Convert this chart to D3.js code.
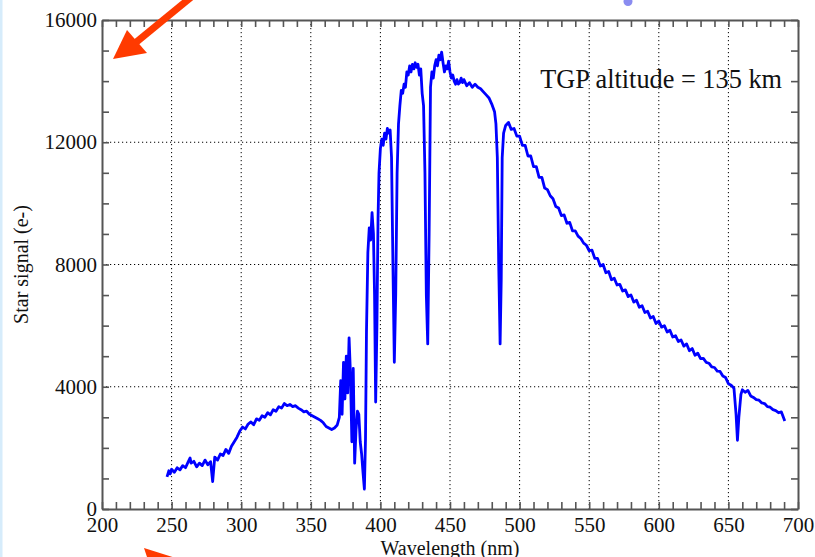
<!DOCTYPE html>
<html><head><meta charset="utf-8">
<script src="https://cdn.jsdelivr.net/npm/d3@7"></script>
<style>
body{margin:0;background:#fff;}
svg{display:block;}
svg text{font-family:"Liberation Serif","Times New Roman",serif !important;}
</style></head><body>
<svg id="c" width="815" height="557"></svg>
<script>
// ---- data ----
const wavelength = [246.7,248,249,250,252,254,256,258,260,262,263.3,264,266,268,270,272,274,276,278,279.5,281,283,285,287,289,291,293,295,297,299,301,303,305,307,309,311,313,315,317,319,321,323,325,327,329,331,333,335,337,339,341,343,345,347,349,351,353,355,357,359,361,363,365,367,369,370.5,371.5,372.5,373.5,374.5,375.5,376.5,377.5,378.5,379.5,380.5,381.5,382.5,383.5,384.5,385.5,386.5,387.5,388.5,389.3,390,391,392,393,394,395,395.8,396.6,397.5,398.3,399,400,401,402,403,404,405,406,407,408,409,410,411,412,413,414,415,416,417,418,419,420,421,422,423,424,425,426,427,428,429,430,431,432,433,434,435,436,437,438,439,440,441,442,443,444,445,446,447,448,449,450,451,452,453,454,455,456,457,458,459,460,462,464,466,468,470,472,474,476,478,480,482,483,484,485,486,486.8,487.5,488.5,490,492,494,496,498,500,502,504,506,508,510,512,514,516,518,520,522,524,526,528,530,532,534,536,538,540,542,544,546,548,550,552,554,556,558,560,562,564,566,568,570,572,574,576,578,580,582,584,586,588,590,592,594,596,598,600,602,604,606,608,610,612,614,616,618,620,622,624,626,628,630,632,634,636,638,640,642,644,646,648,650,652,654,655.5,656.5,657.5,659,660,662,664,666,668,670,672,674,676,678,680,682,684,686,688,689.5,690.5];
const signal = [1050,1250,1150,1300,1200,1350,1280,1420,1350,1550,1670,1500,1560,1380,1500,1420,1600,1450,1550,900,1700,1600,1800,1750,1950,1820,2050,2200,2350,2550,2680,2620,2780,2850,2760,2950,2900,3050,3000,3150,3080,3250,3200,3350,3300,3450,3380,3420,3350,3380,3300,3250,3180,3200,3100,3050,3000,2950,2900,2820,2700,2650,2600,2650,2750,3000,4200,3100,4800,3600,5000,3800,5600,4400,2200,4600,1500,2600,3200,3100,2200,1800,1200,650,2300,5800,8400,9200,8800,9700,9000,7000,3500,6000,9500,11000,11800,12100,11900,12300,12100,12450,12300,12400,11500,8000,4800,7000,11000,12600,13200,13700,13600,13900,13800,14300,14200,14500,14300,14550,14400,14600,14450,14550,14200,14400,13600,13200,11000,7000,5400,9000,13800,14300,14100,14500,14700,14500,14850,14700,14950,14600,14300,14500,14400,14650,14300,14100,14200,14000,13900,14050,13900,13950,14100,13950,14050,13850,13950,13800,13900,13800,13750,13650,13550,13450,13250,13000,12600,11500,8000,5400,7500,11500,12300,12550,12650,12420,12450,12200,12200,11900,11900,11550,11550,11200,11200,10850,10850,10500,10450,10250,10150,9900,9850,9600,9620,9350,9380,9100,9100,8930,8850,8700,8630,8450,8470,8200,8200,7950,8000,7730,7770,7500,7550,7330,7350,7130,7170,6950,7000,6770,6830,6600,6650,6430,6470,6250,6300,6070,6150,5950,6000,5790,5850,5630,5670,5480,5530,5330,5400,5180,5250,5030,5100,4920,4930,4800,4770,4650,4630,4510,4500,4350,4300,4100,4050,3950,3100,2250,3000,3750,3900,3820,3880,3700,3650,3580,3560,3470,3450,3350,3330,3250,3220,3150,3180,3000,2880];
const xTickLabels = [200,250,300,350,400,450,500,550,600,650,700];
const yTickLabels = [0,4000,8000,12000,16000];
const xGrid = [250,300,350,400,450,500,550,600,650];
const yGrid = [4000,8000,12000];
const annotation = "TGP altitude = 135 km";
const xTitle = "Wavelength (nm)";
const yTitle = "Star signal (e-)";

// ---- layout ----
const L=102, R=798, T=20, B=509;
const serif = "Liberation Serif, Times New Roman, serif";
const svg = d3.select("#c");
const x = d3.scaleLinear().domain([200,700]).range([L,R]);
const y = d3.scaleLinear().domain([0,16000]).range([B,T]);
const axisColor = "#555";

// left light-blue strip
svg.append("rect").attr("x",0).attr("y",0).attr("width",2.5).attr("height",557).attr("fill","#d6ecfb");

// grid
svg.append("g").selectAll("line").data(xGrid).join("line")
  .attr("x1",d=>x(d)).attr("x2",d=>x(d)).attr("y1",T).attr("y2",B)
  .attr("stroke","#000").attr("stroke-width",1).attr("stroke-dasharray","1.2,2.8");
svg.append("g").selectAll("line").data(yGrid).join("line")
  .attr("y1",d=>y(d)).attr("y2",d=>y(d)).attr("x1",L).attr("x2",R)
  .attr("stroke","#000").attr("stroke-width",1).attr("stroke-dasharray","1.2,2.8");

// line
const pts = wavelength.map((w,i)=>[w,signal[i]]);
svg.append("path").datum(pts)
  .attr("fill","none").attr("stroke","#0000ff").attr("stroke-width",2.8).attr("stroke-linejoin","round")
  .attr("d", d3.line().x(d=>x(d[0])).y(d=>y(d[1])));

// axes
function styleAxis(g){
  g.attr("font-family",serif).attr("font-size",21);
  g.selectAll(".domain").attr("stroke",axisColor).attr("stroke-width",2);
  g.selectAll(".tick line").attr("stroke",axisColor).attr("stroke-width",1.6);
  g.selectAll("text").attr("fill","#111").style("font-family",serif).style("font-size","21px");
}
const minorX = d3.range(200,701,10);
const minorY = d3.range(0,16001,1000);
svg.append("g").attr("transform",`translate(0,${B})`)
  .call(d3.axisBottom(x).tickValues(minorX).tickSize(-7).tickSizeOuter(0).tickPadding(8)
    .tickFormat(d=>xTickLabels.includes(d)?d:""))
  .call(styleAxis);
svg.append("g").attr("transform",`translate(0,${T})`)
  .call(d3.axisTop(x).tickValues(minorX).tickSize(-7).tickSizeOuter(0).tickFormat(""))
  .call(styleAxis);
svg.append("g").attr("transform",`translate(${L},0)`)
  .call(d3.axisLeft(y).tickValues(minorY).tickSize(-7).tickSizeOuter(0).tickPadding(5)
    .tickFormat(d=>yTickLabels.includes(d)?d:""))
  .call(styleAxis);
svg.append("g").attr("transform",`translate(${R},0)`)
  .call(d3.axisRight(y).tickValues(minorY).tickSize(-7).tickSizeOuter(0).tickFormat(""))
  .call(styleAxis);

// annotation
svg.append("text").attr("x",782).attr("y",88).attr("text-anchor","end")
  .style("font-family",serif).style("font-size","26.3px").attr("fill","#111").text(annotation);

// titles
svg.append("text").attr("x",(L+R)/2).attr("y",555).attr("text-anchor","middle")
  .style("font-family",serif).style("font-size","20px").attr("fill","#111").text(xTitle);
svg.append("text").attr("transform",`translate(28,${(T+B)/2}) rotate(-90)`).attr("text-anchor","middle")
  .style("font-family",serif).style("font-size","20px").attr("fill","#111").text(yTitle);

// decorative slide marks
const red = "#ff3a00";
svg.append("line").attr("x1",195).attr("y1",-6).attr("x2",134).attr("y2",44)
  .attr("stroke",red).attr("stroke-width",7);
svg.append("polygon").attr("points","113,59 127,30 147,53").attr("fill",red);
svg.append("polygon").attr("points","144,548 182,560 152,572").attr("fill",red);
svg.append("circle").attr("cx",628).attr("cy",1.5).attr("r",4.5).attr("fill","#8a8cf0");
</script>
</body></html>
